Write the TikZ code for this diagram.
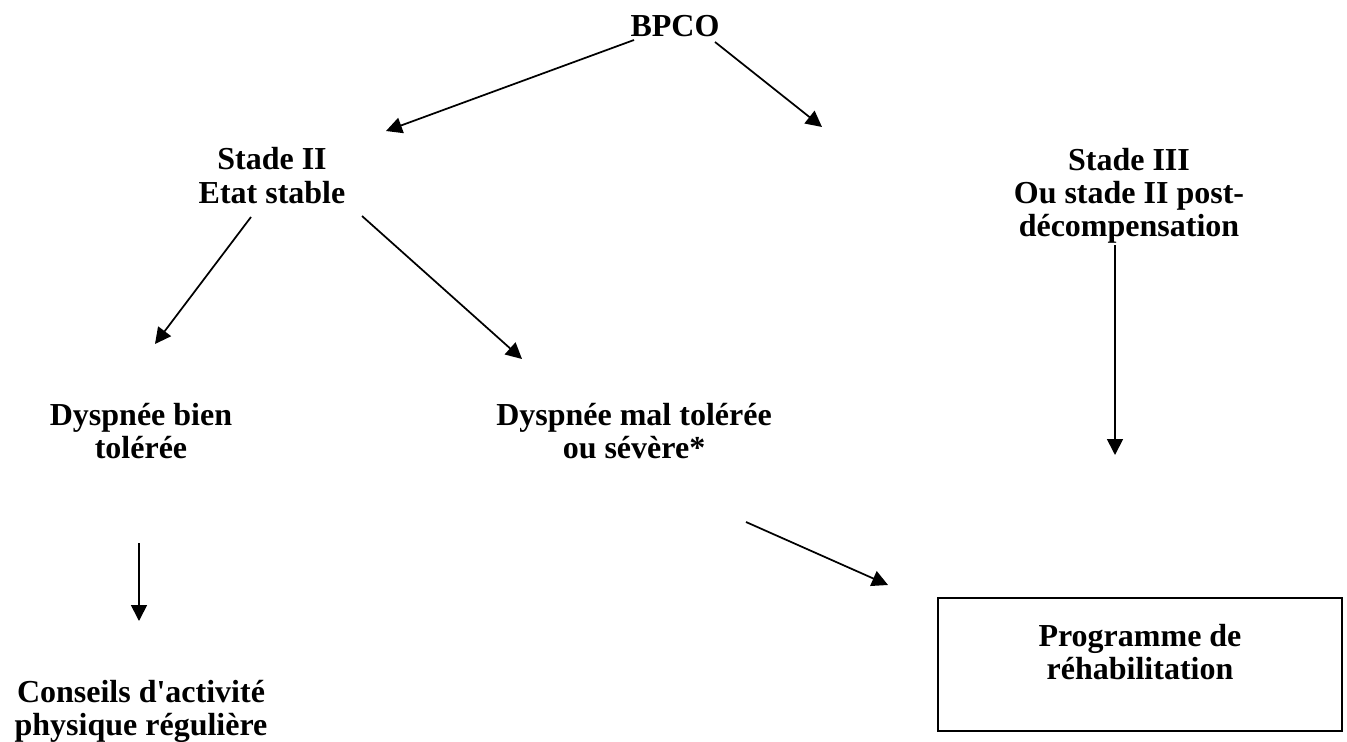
\documentclass[tikz,border=0pt]{standalone}
\usepackage{fontspec}
\setmainfont{Liberation Serif}
\usetikzlibrary{arrows.meta}
\tikzset{
  lbl/.style={font=\bfseries\fontsize{24}{24.75}\selectfont, align=center, inner sep=0pt},
  arr/.style={-{Triangle[length=12pt,width=12pt]}, line width=1.3pt},
  boxnode/.style={lbl, draw, line width=1.5pt, minimum width=303pt, minimum height=99.75pt, text depth=19.5pt}
}
\begin{document}
\begin{tikzpicture}[x=0.75pt,y=-0.75pt]
\useasboundingbox (0,0) rectangle (1347,742);
% text nodes (anchored at baseline of last line)
\node[lbl, anchor=base] (bpco) at (675,37) {BPCO};
\node[lbl, anchor=base] (s2) at (272,203) {Stade II\\Etat stable};
\node[lbl, anchor=base] (s3) at (1129,236) {Stade III\\Ou stade II post-\\décompensation};
\node[lbl, anchor=base] (dbt) at (141,458) {Dyspnée bien\\tolérée};
\node[lbl, anchor=base] (dmt) at (634,458) {Dyspnée mal tolérée\\ou sévère*};
\node[lbl, anchor=base] (cons) at (141,735) {Conseils d\textquotesingle activité\\physique régulière};
\node[boxnode] (prog) at (1140,664.5) {Programme de\\réhabilitation};
% arrow end points
\coordinate (a1s) at (634,40);   \coordinate (a1e) at (386,131);
\coordinate (a2s) at (715,42);   \coordinate (a2e) at (822,127);
\coordinate (a3s) at (251,217);  \coordinate (a3e) at (155,344);
\coordinate (a4s) at (362,216);  \coordinate (a4e) at (522,359);
\coordinate (a5s) at (139,543);  \coordinate (a5e) at (139,621);
\coordinate (a6s) at (746,522);  \coordinate (a6e) at (888,585);
\coordinate (a7s) at (1115,245); \coordinate (a7e) at (1115,455);
\draw[arr] (a1s) -- (a1e);
\draw[arr] (a2s) -- (a2e);
\draw[arr] (a3s) -- (a3e);
\draw[arr] (a4s) -- (a4e);
\draw[arr] (a5s) -- (a5e);
\draw[arr] (a6s) -- (a6e);
\draw[arr] (a7s) -- (a7e);
\end{tikzpicture}
\end{document}
